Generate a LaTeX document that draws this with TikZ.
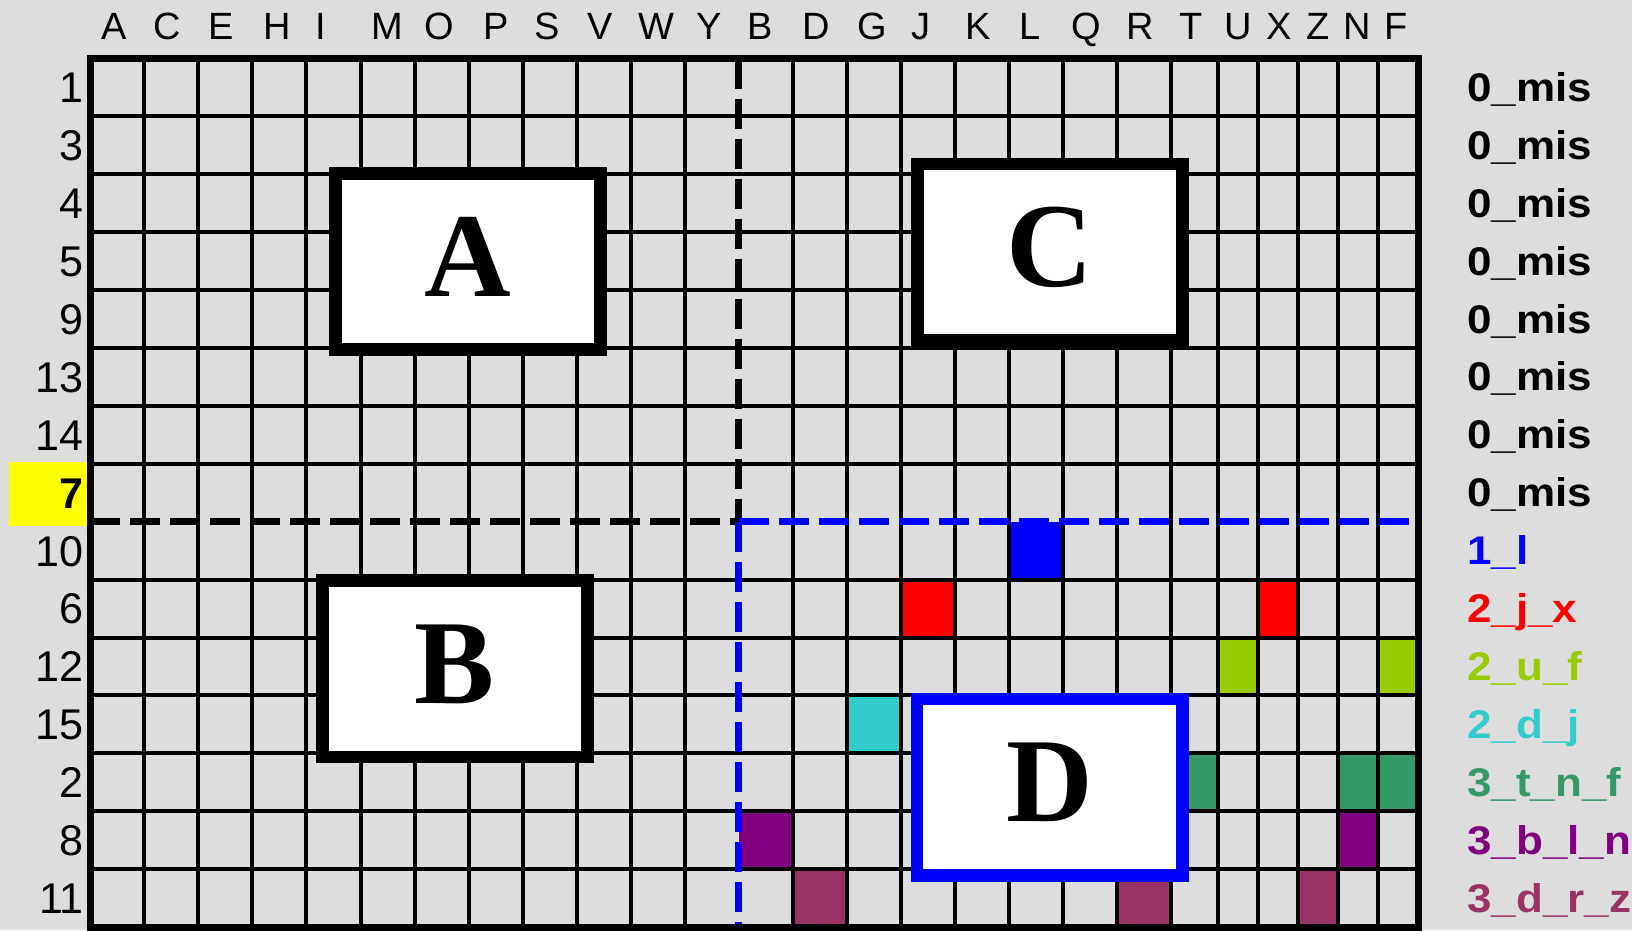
\documentclass[tikz,border=0pt]{standalone}
\usepackage{graphicx}
\usepackage{fontspec}
\setmainfont{Liberation Serif}
\newfontfamily\arialf{Liberation Sans}
\newcommand\wid[1]{\scalebox{1.1}[1]{#1}}
\definecolor{bgc}{RGB}{221,221,221}
\definecolor{cblue}{RGB}{0,0,255}
\definecolor{cred}{RGB}{255,0,0}
\definecolor{cyg}{RGB}{153,204,0}
\definecolor{ccyan}{RGB}{51,204,204}
\definecolor{cgreen}{RGB}{51,153,102}
\definecolor{cpurple}{RGB}{128,0,128}
\definecolor{cmaroon}{RGB}{153,51,102}
\definecolor{cyellow}{RGB}{255,255,0}
\begin{document}
\begin{tikzpicture}[x=1pt,y=-1pt,
  gridline/.style={line width=4pt,black},
  dashline/.style={line width=7pt,dash pattern=on 30pt off 10pt},
  bigbox/.style={draw,line width=12.7pt,fill=white,minimum width=265.3pt,minimum height=176.3pt,inner sep=0pt,text depth=10pt,font=\fontsize{120}{120}\selectfont\bfseries},
  collab/.style={anchor=base,inner sep=0pt,font=\arialf\fontsize{38}{40}\selectfont},
  rowlab/.style={anchor=base east,inner sep=0pt,font=\arialf\fontsize{43}{45}\selectfont},
  leglab/.style={anchor=base west,inner sep=0pt,font=\arialf\bfseries\fontsize{40}{42}\selectfont}]
\useasboundingbox (0,0) rectangle (1632,930);
\fill[bgc] (0,0) rectangle (1632,930);
% highlight of row 7
\fill[cyellow] (9,462) rectangle (88,526);
% coloured cells
\foreach \xa/\xb/\ya/\yb/\c in {
  1008.98/1063.02/521.7/579.6/cblue,
  900.9/954.94/579.6/637.5/cred,
  1258/1298/579.6/637.5/cred,
  1218/1258/637.5/695.4/cyg,
  1378/1418/637.5/695.4/cyg,
  846.86/900.9/695.4/753.3/ccyan,
  1171.1/1218/753.3/811.2/cgreen,
  1338/1378/753.3/811.2/cgreen,
  1378/1418/753.3/811.2/cgreen,
  738.78/792.82/811.2/869.1/cpurple,
  1338/1378/811.2/869.1/cpurple,
  792.82/846.86/869.1/927/cmaroon,
  1117.06/1171.1/869.1/927/cmaroon,
  1298/1338/869.1/927/cmaroon}
  \fill[\c] (\xa,\ya) rectangle (\xb,\yb);
% grid lines
\foreach \x in {144.34,198.38,252.42,306.46,360.5,414.54,468.58,522.62,576.66,630.7,684.74,792.82,846.86,900.9,954.94,1008.98,1063.02,1117.06,1171.1,1218,1258,1298,1338,1378}
  \draw[gridline] (\x,58.5) -- (\x,927);
\foreach \y in {116.4,174.3,232.2,290.1,348,405.9,463.8,579.6,637.5,695.4,753.3,811.2,869.1}
  \draw[gridline] (90.3,\y) -- (1418,\y);
% dashed quadrant lines
\coordinate (qtop) at (738.78,58.5);
\coordinate (qleft) at (90.3,521.7);
\coordinate (qmid) at (738.78,521.7);
\coordinate (qright) at (1418,521.7);
\coordinate (qbot) at (738.78,927);
\draw[dashline,black] (qtop) -- (qmid);
\draw[dashline,black] (qleft) -- (qmid);
\draw[dashline,cblue] (qmid) -- (qright);
\draw[dashline,cblue] (qmid) -- (qbot);
% border
\draw[line width=7pt] (90.3,58.5) rectangle (1418,927);
% big boxes
\node[bigbox] (boxA) at (468,261.5) {A};
\node[bigbox] (boxC) at (1049.9,252) {C};
\node[bigbox] (boxB) at (455,668.7) {B};
\node[bigbox,draw=cblue] (boxD) at (1049.7,787) {D};
% column labels
\foreach \n/\x in {A/114.5,C/167.5,E/221,H/277,I/320.5,M/387,O/439.5,P/496,S/547,V/600.5,W/656,Y/708.7,B/760.5,D/816.5,G/872,J/920.5,K/978.5,L/1030,Q/1086.5,R/1140.5,T/1191,U/1238,X/1279,Z/1318,N/1357,F/1396}
  \node[collab] (col\n) at (\x,39.5) {\n};
% row labels
\foreach \n/\y in {1/87.45,3/145.35,4/203.25,5/261.15,9/319.05,13/376.95,14/434.85,10/550.65,6/608.55,12/666.45,15/724.35,2/782.25,8/840.15,11/898.05}
  \node[rowlab] (row\n) at (84,\y+15.4) {\n};
\node[rowlab,font=\arialf\bfseries\fontsize{43}{45}\selectfont] (row7) at (84,492.75+15.4) {7};
% legend
\foreach \i/\y in {1/87.45,2/145.35,3/203.25,4/261.15,5/319.05,6/376.95,7/434.85,8/492.75}
  \node[leglab] (leg\i) at (1467,\y+14) {\wid{0\_mis}};
\node[leglab,text=cblue] (leg9) at (1467,550.65+14) {\wid{1\_l}};
\node[leglab,text=cred] (leg10) at (1467,608.55+14) {\wid{2\_j\_x}};
\node[leglab,text=cyg] (leg11) at (1467,666.45+14) {\wid{2\_u\_f}};
\node[leglab,text=ccyan] (leg12) at (1467,724.35+14) {\wid{2\_d\_j}};
\node[leglab,text=cgreen] (leg13) at (1467,782.25+14) {\wid{3\_t\_n\_f}};
\node[leglab,text=cpurple] (leg14) at (1467,840.15+14) {\wid{3\_b\_l\_n}};
\node[leglab,text=cmaroon] (leg15) at (1467,898.05+14) {\wid{3\_d\_r\_z}};
\end{tikzpicture}
\end{document}
